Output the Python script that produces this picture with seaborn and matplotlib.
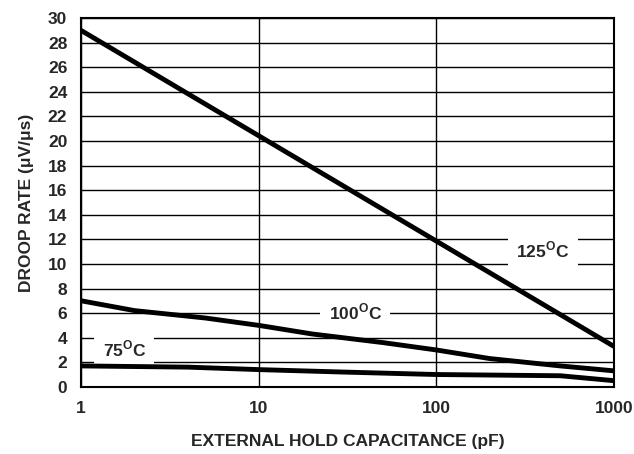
import matplotlib
matplotlib.use("Agg")
import matplotlib.pyplot as plt
import seaborn as sns
import pandas as pd

# values
cap_125 = [1, 1000]
rate_125 = [29.0, 3.3]
cap_100 = [1, 2, 5, 10, 20, 50, 100, 200, 500, 1000]
rate_100 = [7.0, 6.2, 5.6, 5.0, 4.3, 3.6, 3.0, 2.3, 1.7, 1.3]
cap_75 = [1, 4, 10, 30, 100, 500, 1000]
rate_75 = [1.7, 1.6, 1.4, 1.2, 1.0, 0.9, 0.5]

x_ticks = [1, 10, 100, 1000]
y_ticks = list(range(0, 31, 2))

df = pd.concat([
    pd.DataFrame({"cap": cap_125, "rate": rate_125, "temp": "125"}),
    pd.DataFrame({"cap": cap_100, "rate": rate_100, "temp": "100"}),
    pd.DataFrame({"cap": cap_75, "rate": rate_75, "temp": "75"}),
])

sns.set_style("white")
plt.rcParams['font.family'] = ['Liberation Sans', 'DejaVu Sans']
plt.rcParams['mathtext.fontset'] = 'custom'
plt.rcParams['mathtext.bf'] = 'Liberation Sans:bold'

fig, ax = plt.subplots(figsize=(6.34, 4.54), dpi=100)
sns.lineplot(data=df, x="cap", y="rate", units="temp", estimator=None,
             color="black", linewidth=3.5, ax=ax, zorder=3, sort=False)

ax.set_xscale("log")
ax.set_xlim(1, 1000)
ax.set_ylim(0, 30)
ax.set_xticks(x_ticks)
ax.set_xticklabels([str(v) for v in x_ticks])
ax.set_yticks(y_ticks)
ax.minorticks_off()
ax.grid(True, color="black", linewidth=1.0, zorder=1)
ax.set_axisbelow(True)
ax.tick_params(length=0, labelsize=12.5)
ax.tick_params(axis="x", pad=10)
ax.tick_params(axis="y", pad=10)
for lab in ax.get_xticklabels() + ax.get_yticklabels():
    lab.set_fontweight("bold")
for s in ax.spines.values():
    s.set_color("black")
    s.set_linewidth(1.5)

ax.set_xlabel("EXTERNAL HOLD CAPACITANCE (pF)", fontsize=12.5, fontweight="bold", labelpad=13)
ax.set_ylabel("DROOP RATE (μV/μs)", fontsize=12.5, fontweight="bold", labelpad=10)

box = dict(facecolor="white", edgecolor="none", pad=6)
for xt, yt, t in [(400, 11.1, "125"), (35, 6.1, "100"), (1.75, 3.1, "75")]:
    ax.text(xt, yt, t + r"$^{\mathbf{O}}$C", ha="center", va="center",
            fontsize=12.5, fontweight="bold", bbox=box, zorder=2)

fig.subplots_adjust(left=0.128, right=0.968, top=0.96, bottom=0.148)
fig.savefig("out.png", dpi=100)
